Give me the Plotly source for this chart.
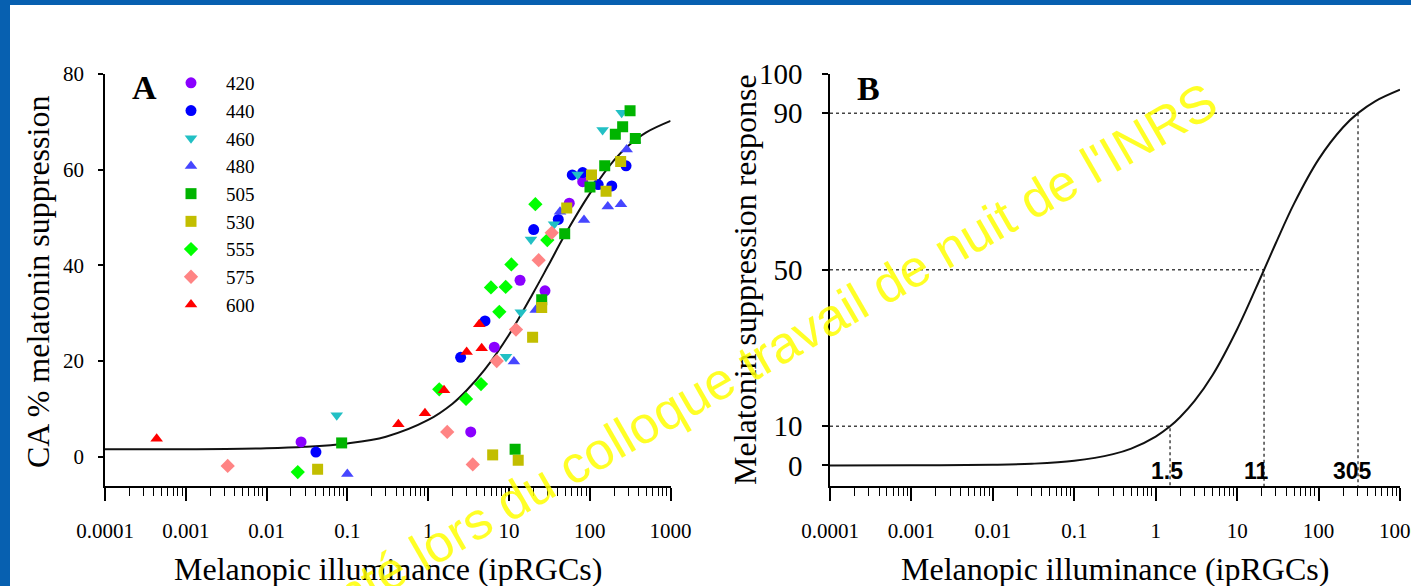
import math
import plotly.graph_objects as go

W, H = 1411, 586

# ---------------- Panel A data ----------------
wl_420_x = [0.0267, 3.36, 6.58, 13.7, 27.9, 55.7, 81.7]
wl_420_y = [3.1, 5.2, 22.9, 36.9, 34.7, 53.0, 57.5]

wl_440_x = [0.0408, 2.52, 5.05, 20.2, 40.7, 60.7, 81.7, 127, 187, 281]
wl_440_y = [1.0, 20.8, 28.4, 47.5, 49.6, 58.9, 59.4, 56.9, 56.6, 60.8]

wl_460_x = [0.0738, 9.18, 14.0, 18.7, 36.1, 70.8, 144, 248]
wl_460_y = [8.7, 20.9, 30.2, 45.4, 48.6, 59.0, 68.3, 71.9]

wl_480_x = [0.0998, 11.5, 21.4, 42.8, 84.8, 167, 243, 286, 362]
wl_480_y = [-3.6, 19.9, 30.7, 51.2, 49.5, 52.3, 52.8, 64.2, 66.2]

wl_505_x = [0.0849, 11.9, 25.4, 48.9, 100.5, 153, 207, 255, 315, 366]
wl_505_y = [2.9, 1.6, 32.8, 46.6, 56.4, 60.8, 67.4, 69.0, 72.3, 66.5]

wl_530_x = [0.0428, 6.28, 13.0, 19.6, 25.4, 51.8, 105, 159, 241]
wl_530_y = [-2.6, 0.4, -0.7, 25.0, 31.2, 52.0, 58.9, 55.5, 61.7]

wl_555_x = [0.0243, 1.37, 2.94, 4.50, 5.98, 7.59, 9.10, 10.7, 21.2, 29.8]
wl_555_y = [-3.2, 14.1, 12.1, 15.2, 35.4, 30.3, 35.5, 40.2, 52.8, 45.3]

wl_575_x = [0.00330, 1.72, 3.56, 7.05, 12.2, 23.3, 33.8]
wl_575_y = [-1.9, 5.2, -1.6, 20.0, 26.6, 41.1, 46.8]

wl_600_x = [0.000436, 0.427, 0.912, 1.57, 2.99, 4.59, 4.29]
wl_600_y = [3.8, 6.8, 9.1, 13.9, 21.9, 22.7, 27.7]

# fitted curve of panel A
curveA_x = [0.0001, 0.001, 0.01, 0.03, 0.1, 0.3, 1, 2, 3, 5, 10, 20, 30, 50, 100, 200, 300, 500, 1000]
curveA_y = [1.6, 1.6, 1.8, 2.1, 2.8, 4.2, 7.7, 11.1, 13.9, 18.2, 25.5, 34.3, 39.7, 46.6, 55.0, 62.0, 65.0, 67.8, 70.2]

# ---------------- Panel B data ----------------
curveB_x = [0.0001, 0.001, 0.01, 0.03, 0.1, 0.3, 0.5, 1, 1.5, 2, 3, 5, 10, 20, 30, 50, 100, 200, 305, 500, 1000]
curveB_y = [0.0, 0.03, 0.18, 0.44, 1.2, 2.9, 4.3, 7.4, 10.0, 12.4, 16.5, 23.1, 34.8, 48.6, 56.9, 66.9, 78.2, 86.4, 90.0, 93.1, 96.0]

thr_levels = [10, 50, 90]
thr_x = [1.5, 21.4, 305]
thr_labels = ["1.5", "11", "305"]
thr_label_shift = [-3, -8, -6]

# ticks
x_tickvals = [0.0001, 0.001, 0.01, 0.1, 1, 10, 100, 1000]
x_ticktext = ["0.0001", "0.001", "0.01", "0.1", "1", "10", "100", "1000"]
yA_ticks = [0, 20, 40, 60, 80]
yB_ticks = [0, 10, 50, 90, 100]

series = [
    ("420", wl_420_x, wl_420_y, "circle", "#8A00FF"),
    ("440", wl_440_x, wl_440_y, "circle", "#0000FF"),
    ("460", wl_460_x, wl_460_y, "triangle-down", "#22C0C4"),
    ("480", wl_480_x, wl_480_y, "triangle-up", "#4646FF"),
    ("505", wl_505_x, wl_505_y, "square", "#00B400"),
    ("530", wl_530_x, wl_530_y, "square", "#C2BE00"),
    ("555", wl_555_x, wl_555_y, "diamond", "#00FF00"),
    ("575", wl_575_x, wl_575_y, "diamond", "#FF8484"),
    ("600", wl_600_x, wl_600_y, "triangle-up", "#FF0000"),
]

SERIF = "Liberation Serif, Times New Roman, serif"
SANS = "Liberation Sans, Arial, sans-serif"

fig = go.Figure()

fig.add_trace(go.Scatter(x=curveA_x, y=curveA_y, mode="lines", line=dict(color="#111111", width=2, shape="spline"),
                         showlegend=False, hoverinfo="skip", xaxis="x", yaxis="y"))

for name, xs, ys, sym, col in series:
    fig.add_trace(go.Scatter(x=xs, y=ys, mode="markers", name=name,
                             marker=dict(symbol=sym, size=11, color=col, line=dict(width=0)),
                             xaxis="x", yaxis="y"))

# Panel B
yB_min = -5.24
for lvl, xt in zip(thr_levels, thr_x):
    fig.add_trace(go.Scatter(x=[x_tickvals[0], xt, xt], y=[lvl, lvl, yB_min], mode="lines",
                             line=dict(color="#444444", width=1.5, dash="dot"),
                             showlegend=False, hoverinfo="skip", xaxis="x2", yaxis="y2"))
fig.add_trace(go.Scatter(x=curveB_x, y=curveB_y, mode="lines", line=dict(color="#111111", width=2, shape="spline"),
                         showlegend=False, hoverinfo="skip", xaxis="x2", yaxis="y2"))

minor_vals = [k * 10.0 ** e for e in range(-4, 3) for k in range(2, 10)]

def xaxis_cfg(domain, anchor):
    return dict(domain=domain, anchor=anchor, type="log", range=[-4, 3], tickmode="array", tickvals=x_tickvals,
                ticktext=x_ticktext, ticks="outside", ticklen=13, tickwidth=1.5, tickcolor="black",
                showline=True, linecolor="black", linewidth=1.5, showgrid=False, zeroline=False,
                automargin=False, ticklabeloverflow="allow",
                tickfont=dict(family=SERIF, size=21, color="black"), ticklabelstandoff=12,
                minor=dict(tickmode="array", tickvals=minor_vals, ticks="outside", ticklen=8,
                           tickwidth=1.3, tickcolor="black", showgrid=False))

ydom = [100 / H, 512 / H]

fig.update_layout(
    width=W, height=H, margin=dict(l=0, r=0, t=0, b=0, pad=0, autoexpand=False),
    paper_bgcolor="white", plot_bgcolor="white",
    xaxis=xaxis_cfg([105 / W, 670.6 / W], "y"),
    xaxis2=xaxis_cfg([830 / W, 1400 / W], "y2"),
    yaxis=dict(domain=ydom, anchor="x", range=[-6.1, 80], tickmode="array", tickvals=yA_ticks, ticks="outside",
               ticklen=5, tickwidth=1.5, tickcolor="black", showline=True, linecolor="black", linewidth=1.5,
               showgrid=False, zeroline=False, automargin=False,
               tickfont=dict(family=SERIF, size=21, color="black"), ticklabelstandoff=10),
    yaxis2=dict(domain=ydom, anchor="x2", range=[yB_min, 100], tickmode="array", tickvals=yB_ticks,
                ticks="outside", ticklen=6, tickwidth=1.5, tickcolor="black", showline=True, linecolor="black",
                linewidth=1.5, showgrid=False, zeroline=False, automargin=False,
                tickfont=dict(family=SERIF, size=29, color="black"), ticklabelstandoff=14),
    legend=dict(x=156 / W, y=(H - 64) / H, xanchor="left", yanchor="top", bgcolor="rgba(0,0,0,0)",
                font=dict(family=SERIF, size=19, color="black"), itemwidth=60, tracegroupgap=0),
    showlegend=True,
)

ann = []
def px_ann(text, cx, cy, size, family=SERIF, angle=0, color="black", bold=False):
    t = f"<b>{text}</b>" if bold else text
    ann.append(dict(text=t, x=cx / W, y=(H - cy) / H, xref="paper", yref="paper", showarrow=False,
                    xanchor="center", yanchor="middle", textangle=angle,
                    font=dict(family=family, size=size, color=color)))

px_ann("Melanopic illuminance (ipRGCs)", 388, 569, 32)
px_ann("Melanopic illuminance (ipRGCs)", 1115, 569, 32)
px_ann("CA % melatonin suppression", 38, 282, 32, angle=-90)
px_ann("Melatonin suppression response", 745, 280, 32, angle=-90)
px_ann("A", 144, 87, 34, bold=True)
px_ann("B", 868, 88, 34, bold=True)

for lab, xt, sh in zip(thr_labels, thr_x, thr_label_shift):
    ann.append(dict(text=f"<b>{lab}</b>", x=math.log10(xt), y=-1.33, xref="x2", yref="y2", showarrow=False,
                    xanchor="center", yanchor="middle", xshift=sh,
                    font=dict(family=SANS, size=23, color="black")))

# watermark
px_ann("présenté lors du colloque travail de nuit de l'INRS", 719, 381, 52, family=SANS, angle=-30,
       color="rgba(255,255,0,0.85)")

fig.update_layout(annotations=ann)

# blue slide frame
fig.update_layout(shapes=[
    dict(type="rect", xref="paper", yref="paper", x0=0, x1=10 / W, y0=0, y1=1,
         fillcolor="#0760B0", line=dict(width=0), layer="above"),
    dict(type="rect", xref="paper", yref="paper", x0=0, x1=1, y0=(H - 5) / H, y1=1,
         fillcolor="#0760B0", line=dict(width=0), layer="above"),
])

fig.write_html("out.html")
